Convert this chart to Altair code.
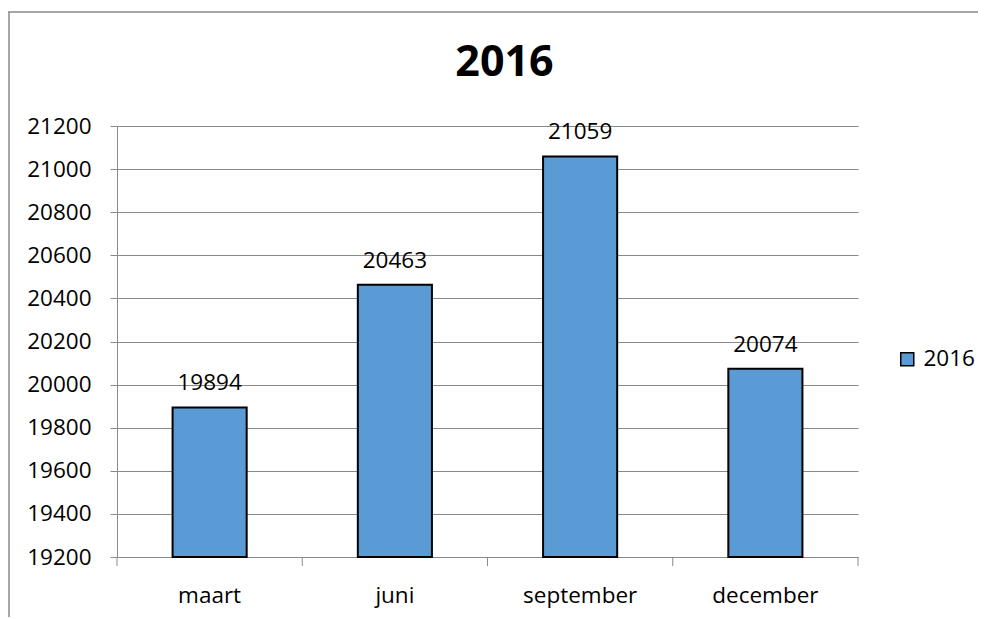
import altair as alt
import pandas as pd

months = ["maart", "juni", "september", "december"]
values = [19894, 20463, 21059, 20074]
series_name = "2016"
y_ticks = list(range(19200, 21201, 200))
boundaries = list(range(len(months) + 1))

df = pd.DataFrame({"maand": months, "waarde": values, "reeks": [series_name] * len(months)})
bdf = pd.DataFrame({"b": boundaries})
one = pd.DataFrame({"a": [0]})

W, H = 741, 431
GREY = "#8a8a8a"
FONT = "Open Sans"
FS = 22.5

x_enc = alt.X(
    "maand:N", sort=months,
    scale=alt.Scale(paddingInner=0.6, paddingOuter=0.3),
    axis=alt.Axis(title=None, labelAngle=0, labelFont=FONT, labelFontSize=FS, labelColor="black",
                  tickOpacity=0, tickSize=9, labelPadding=18, domainColor=GREY, domainWidth=1, grid=False),
)
y_enc = alt.Y(
    "waarde:Q",
    scale=alt.Scale(domain=[19200, 21200], nice=False, zero=False),
    axis=alt.Axis(title=None, values=y_ticks, format="d", labelFont=FONT, labelFontSize=FS,
                  labelColor="black", tickColor=GREY, tickSize=7, labelPadding=19, domainColor=GREY,
                  gridColor=GREY, gridOpacity=1),
)

bars = alt.Chart(df).mark_bar(stroke="black", strokeWidth=2).encode(
    x=x_enc, y=y_enc, y2=alt.datum(19200),
    color=alt.Color("reeks:N", scale=alt.Scale(range=["#5B9BD5"]),
                    legend=alt.Legend(title=None, orient="none", legendX=779, legendY=222,
                                      symbolType="square", symbolSize=170, symbolStrokeColor="black",
                                      symbolStrokeWidth=1.5, labelFont=FONT, labelFontSize=FS,
                                      labelColor="black", labelOffset=5)),
)

labels = alt.Chart(df).mark_text(dy=-17, baseline="alphabetic", font=FONT, fontSize=FS, color="black").encode(
    x=alt.X("maand:N", sort=months), y=alt.Y("waarde:Q"), text=alt.Text("waarde:Q", format="d")
)

ticks = alt.Chart(bdf).mark_rule(color=GREY).encode(
    x=alt.X("b:Q", scale=alt.Scale(domain=[0, len(months)], nice=False, zero=False), axis=None),
    y=alt.value(H), y2=alt.value(H + 9),
)

border_top = alt.Chart(one).mark_rule(color=GREY, strokeWidth=1.5).encode(
    x=alt.value(-109), x2=alt.value(W + 140), y=alt.value(-114)
)
border_left = alt.Chart(one).mark_rule(color=GREY, strokeWidth=1.5).encode(
    x=alt.value(-108), y=alt.value(-114), y2=alt.value(H + 80)
)

main = alt.layer(bars, labels)

chart = alt.layer(main, ticks, border_top, border_left).resolve_scale(x="independent").properties(
    width=W, height=H,
    padding={"left": 109, "top": 118, "right": 120, "bottom": 60},
    autosize=alt.AutoSizeParams(type="none"),
    title=alt.TitleParams("2016", font=FONT, fontSize=43, fontWeight="bold", color="black",
                          anchor="middle", frame="group", baseline="alphabetic", offset=-108, dx=17),
).configure_view(stroke=None)

chart.save("out.html", embed_options={"renderer": "svg", "actions": False})
